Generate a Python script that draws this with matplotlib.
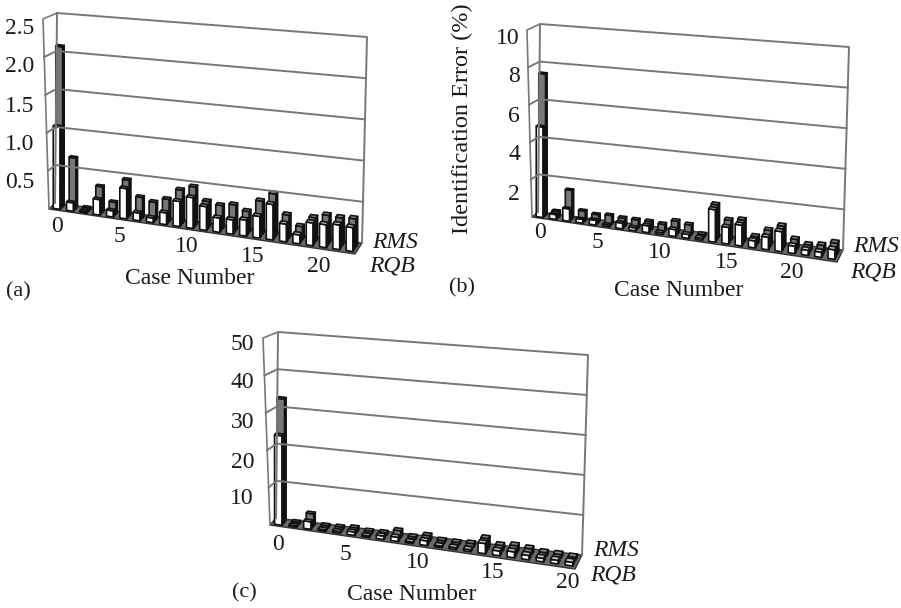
import numpy as np
import matplotlib
matplotlib.use('Agg')
import matplotlib.pyplot as plt
from matplotlib.patches import Polygon

plt.rcParams['font.family'] = ['Liberation Serif', 'DejaVu Serif']

# 읽어낸 값 (RQB = 앞줄 흰 막대, RMS = 뒷줄 어두운 막대)
rqb_a = [1.08, .11, .02, .2, .08, .39, .1, .06, .15, .32, .39, .3, .18, .18, .2, .27, .44, .22, .11, .28, .28, .3, .29]
rms_a = [2.1, .66, .03, .33, .15, .46, .26, .22, .28, .42, .48, .32, .29, .32, .26, .41, .52, .28, .16, .29, .34, .33, .34]
rqb_b = [4.8, .25, .65, .2, .25, .1, .3, .15, .35, .1, .35, .2, .1, 1.65, .85, 1.05, .35, .63, 1.0, .37, .26, .26, .47]
rms_b = [7.5, .3, 1.5, .5, .4, .45, .4, .4, .4, .35, .6, .5, .1, 1.7, 1.0, 1.1, .35, .75, 1.05, .47, .28, .35, .55]
rqb_c = [24, .4, 2, .4, .5, .9, .4, .9, 1.1, .4, 1.2, .4, .5, .5, 2.6, 1.2, 1.5, 1.1, .9, .9, .9]
rms_c = [33, .5, 3.2, .6, .7, 1.0, .6, .7, 1.7, .6, 1.4, .6, .6, .8, 2.6, 1.3, 1.7, 1.4, .9, .9, .7]

yticks_a = [0.5, 1.0, 1.5, 2.0, 2.5]
yticks_b = [2, 4, 6, 8, 10]
yticks_c = [10, 20, 30, 40, 50]
ylabels_a = ['0.5', '1.0', '1.5', '2.0', '2.5']
ylabels_b = ['2', '4', '6', '8', '10']
ylabels_c = ['10', '20', '30', '40', '50']
xlabels = ['0', '5', '10', '15', '20']

# 패널 모서리 (픽셀)
GEOM_A = dict(f0=(49, 209), f1=(355, 254), b0=(55, 203), b1=(362, 243),
              t0=(57, 13), t1=(367, 37), s0=(43, 19))
GEOM_B = dict(f0=(532, 217), f1=(837, 262), b0=(538, 212), b1=(843, 250),
              t0=(540, 24), t1=(849, 47), s0=(527, 30))
GEOM_C = dict(f0=(270, 525), f1=(575, 569), b0=(276, 518), b1=(582, 555),
              t0=(278, 332), t1=(588, 355), s0=(263, 338))

FS = 17
TXT = '#1a1a1a'
GRID = '#777777'

fig = plt.figure(figsize=(9.01, 6.08), dpi=100)
ax = fig.add_axes([0, 0, 1, 1])
ax.set_xlim(0, 901); ax.set_ylim(608, 0)
ax.axis('off')


def lerp(p, q, t):
    return np.array(p, float) + (np.array(q, float) - np.array(p, float)) * t


def floor_pt(g, u, d):
    return lerp(lerp(g['f0'], g['f1'], u), lerp(g['b0'], g['b1'], u), d)


def bar3d(g, u, d, val, ymax, du, dd, front, side, top):
    # 직육면체 하나: 정면, 오른쪽 면, 윗면
    h = (g['b0'][1] - g['t0'][1]) * (1 - u) + (g['b1'][1] - g['t1'][1]) * u
    h = h * val / ymax
    p1 = floor_pt(g, u - du / 2, d - dd / 2)
    p2 = floor_pt(g, u + du / 2, d - dd / 2)
    p3 = floor_pt(g, u + du / 2, d + dd / 2)
    p4 = floor_pt(g, u - du / 2, d + dd / 2)
    up = np.array([0, -h])
    kw = dict(edgecolor='#111111', lw=1.2, joinstyle='round')
    ax.add_patch(Polygon([p1, p2, p2 + up, p1 + up], facecolor=front, **kw))
    ax.add_patch(Polygon([p2, p3, p3 + up, p2 + up], facecolor=side, **kw))
    ax.add_patch(Polygon([p1 + up, p2 + up, p3 + up, p4 + up], facecolor=top, **kw))


def draw_panel(g, rqb, rms, yticks):
    ymax = yticks[-1]
    # 바닥
    ax.add_patch(Polygon([g['f0'], g['f1'], g['b1'], g['b0']], facecolor='#6a6a6a',
                         edgecolor='#333333', lw=1.0))
    # 벽
    ax.plot(*zip(g['b0'], g['t0'], g['t1'], g['b1']), color=GRID, lw=1.4)
    ax.plot(*zip(g['f0'], g['s0'], g['t0']), color=GRID, lw=1.2)
    for v in yticks[:-1]:
        fr = v / ymax
        left = lerp(g['b0'], g['t0'], fr)
        right = lerp(g['b1'], g['t1'], fr)
        side = lerp(g['f0'], g['s0'], fr)
        ax.plot(*zip(side, left, right), color=GRID, lw=1.4)
    n = len(rqb)
    du = 0.52 / n
    for i, v in enumerate(rms):
        bar3d(g, (i + .5) / n, .72, v, ymax, du, .24, '#777777', '#1c1c1c', '#8c8c8c')
    for i, v in enumerate(rqb):
        bar3d(g, (i + .5) / n, .3, v, ymax, du, .24, '#ffffff', '#444444', '#cccccc')


draw_panel(GEOM_A, rqb_a, rms_a, yticks_a)
draw_panel(GEOM_B, rqb_b, rms_b, yticks_b)
draw_panel(GEOM_C, rqb_c, rms_c, yticks_c)


def put(x, y, s, ha='center', **kw):
    ax.text(x, y, s, ha=ha, va='center', fontsize=kw.pop('fontsize', FS), color=TXT, **kw)


for y, s in zip([183, 145, 107, 67, 28], ylabels_a):
    put(34, y, s, ha='right')
for y, s in zip([195, 155, 117, 77, 38], ylabels_b):
    put(520, y, s, ha='right')
for y, s in zip([499, 462, 422, 383, 345], ylabels_c):
    put(254, y, s, ha='right')

for (x, y), s in zip([(57, 227), (119, 237), (187, 247), (253, 257), (319, 266)], xlabels):
    put(x, y, s)
for (x, y), s in zip([(540, 233), (597, 243), (660, 253), (727, 262), (792, 272)], xlabels):
    put(x, y, s)
for (x, y), s in zip([(278, 544), (345, 554), (418, 563), (493, 573), (568, 582)], xlabels):
    put(x, y, s)

put(190, 278, 'Case Number')
put(679, 290, 'Case Number')
put(412, 595, 'Case Number')

put(395, 242, 'RMS', style='italic')
put(392, 266, 'RQB', style='italic')
put(876, 247, 'RMS', style='italic')
put(873, 272, 'RQB', style='italic')
put(616, 551, 'RMS', style='italic')
put(613, 575, 'RQB', style='italic')

put(18, 292, '(a)', fontsize=16)
put(462, 288, '(b)', fontsize=16)
put(244, 593, '(c)', fontsize=16)

put(462, 119, 'Identification Error (%)', rotation=90, fontsize=17.5)

fig.savefig('out.png', dpi=100)
